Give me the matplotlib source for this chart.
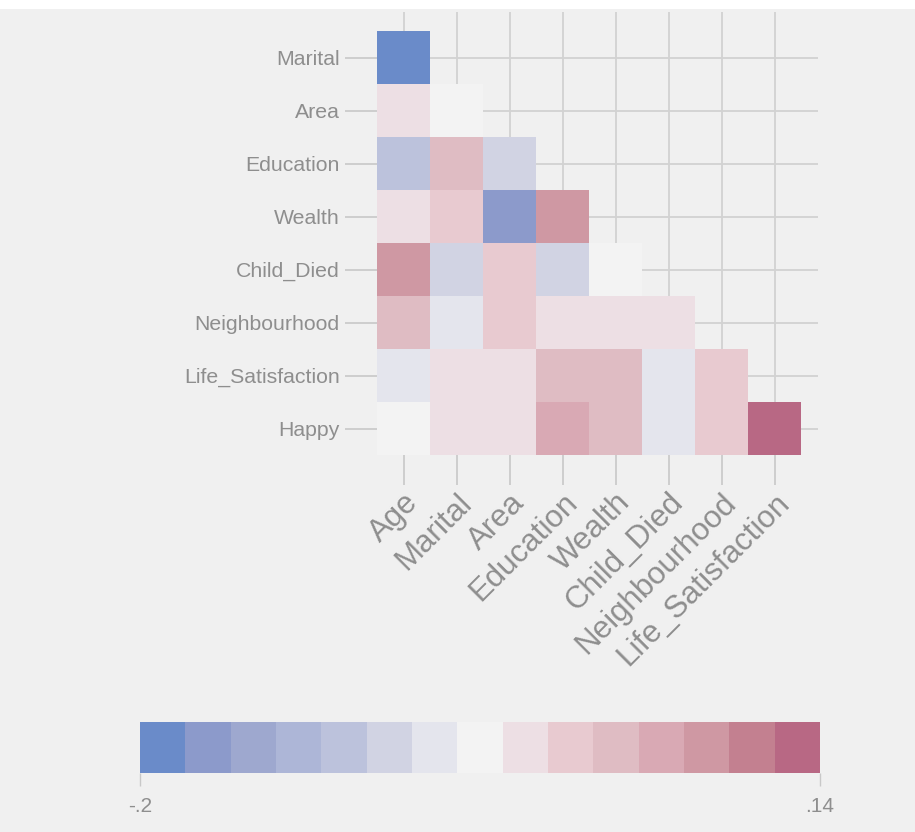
import numpy as np
import matplotlib
matplotlib.use("Agg")
import matplotlib.pyplot as plt
from matplotlib.colors import ListedColormap, BoundaryNorm
from matplotlib.cm import ScalarMappable
from matplotlib.patches import Rectangle

plt.rcParams['font.family'] = ['Liberation Sans', 'DejaVu Sans']

# ---- data ----
x_labels = ["Age", "Marital", "Area", "Education", "Wealth", "Child_Died",
            "Neighbourhood", "Life_Satisfaction"]
y_labels = ["Marital", "Area", "Education", "Wealth", "Child_Died",
            "Neighbourhood", "Life_Satisfaction", "Happy"]

row_marital = [-0.19]
row_area = [-0.007, -0.03]
row_education = [-0.10, 0.04, -0.075]
row_wealth = [-0.007, 0.015, -0.165, 0.085]
row_child_died = [0.085, -0.075, 0.015, -0.075, -0.03]
row_neighbourhood = [0.04, -0.053, 0.015, -0.007, -0.007, -0.007]
row_life_sat = [-0.053, -0.007, -0.007, 0.04, 0.04, -0.053, 0.015]
row_happy = [-0.03, -0.007, -0.007, 0.06, 0.04, -0.053, 0.015, 0.13]

cbar_min = -0.2
cbar_max = 0.14
cbar_tick_labels = ["-.2", ".14"]

bin_colors = ["#6a8bc9", "#8c9acb", "#9ea8cf", "#adb6d7", "#bcc2dc",
              "#d1d3e3", "#e4e5ed", "#f3f3f3", "#eddfe4", "#e8cad0",
              "#dfbcc3", "#d9a9b4", "#cf98a3", "#c38090", "#b86884"]

rows = [row_marital, row_area, row_education, row_wealth, row_child_died,
        row_neighbourhood, row_life_sat, row_happy]

n = len(y_labels)
mat = np.full((n, n), np.nan)
for i, r in enumerate(rows):
    mat[i, :len(r)] = r
mat = np.ma.masked_invalid(mat)

cmap = ListedColormap(bin_colors)
bounds = np.linspace(cbar_min, cbar_max, len(bin_colors) + 1)
norm = BoundaryNorm(bounds, cmap.N)

bg = "#f0f0f0"
grid_c = "#d2d2d2"
text_c = "#8e8e8e"
tick_c = "#c8c8c8"

fig = plt.figure(figsize=(9.15, 8.32), dpi=100, facecolor=bg)
fig.patches.append(Rectangle((0, 1 - 9/832), 1, 9/832, transform=fig.transFigure,
                             facecolor="white", edgecolor="none", zorder=-1))

ax = fig.add_axes([377/915, 1 - 455/832, 441/915, 443/832])
ax.set_facecolor(bg)
ax.pcolormesh(np.arange(n + 1) - 0.5, np.arange(n + 1) - 0.5, mat,
              cmap=cmap, norm=norm, zorder=3)
ax.set_xlim(-0.5, 7.82)
ax.set_ylim(7.5, -0.86)
ax.set_xticks(range(n))
ax.set_yticks(range(n))
ax.set_xticklabels(x_labels, rotation=45, ha='right', va='top',
                   rotation_mode='anchor', fontsize=22.5, color=text_c)
ax.set_yticklabels(y_labels, fontsize=15.3, color=text_c)
ax.tick_params(axis='x', length=21.5, width=1.2, color=tick_c, pad=2)
ax.tick_params(axis='y', length=23, width=1.2, color=tick_c, pad=4)
ax.grid(True, color=grid_c, linewidth=1.3, zorder=0)
ax.set_axisbelow(True)
for s in ax.spines.values():
    s.set_visible(False)

cax = fig.add_axes([140/915, 1 - 773/832, 680/915, 51/832])
sm = ScalarMappable(norm=norm, cmap=cmap)
cb = fig.colorbar(sm, cax=cax, orientation='horizontal', ticks=[cbar_min, cbar_max])
cb.outline.set_visible(False)
cb.ax.minorticks_off()
cb.ax.xaxis.set_minor_locator(matplotlib.ticker.NullLocator())
cb.ax.set_xticks([cbar_min, cbar_max])
cb.ax.set_xticklabels(cbar_tick_labels, fontsize=15, color=text_c)
cb.ax.tick_params(axis='x', which='major', length=9, width=1, color=tick_c, pad=8)

fig.savefig("out.png", dpi=100, facecolor=bg)
